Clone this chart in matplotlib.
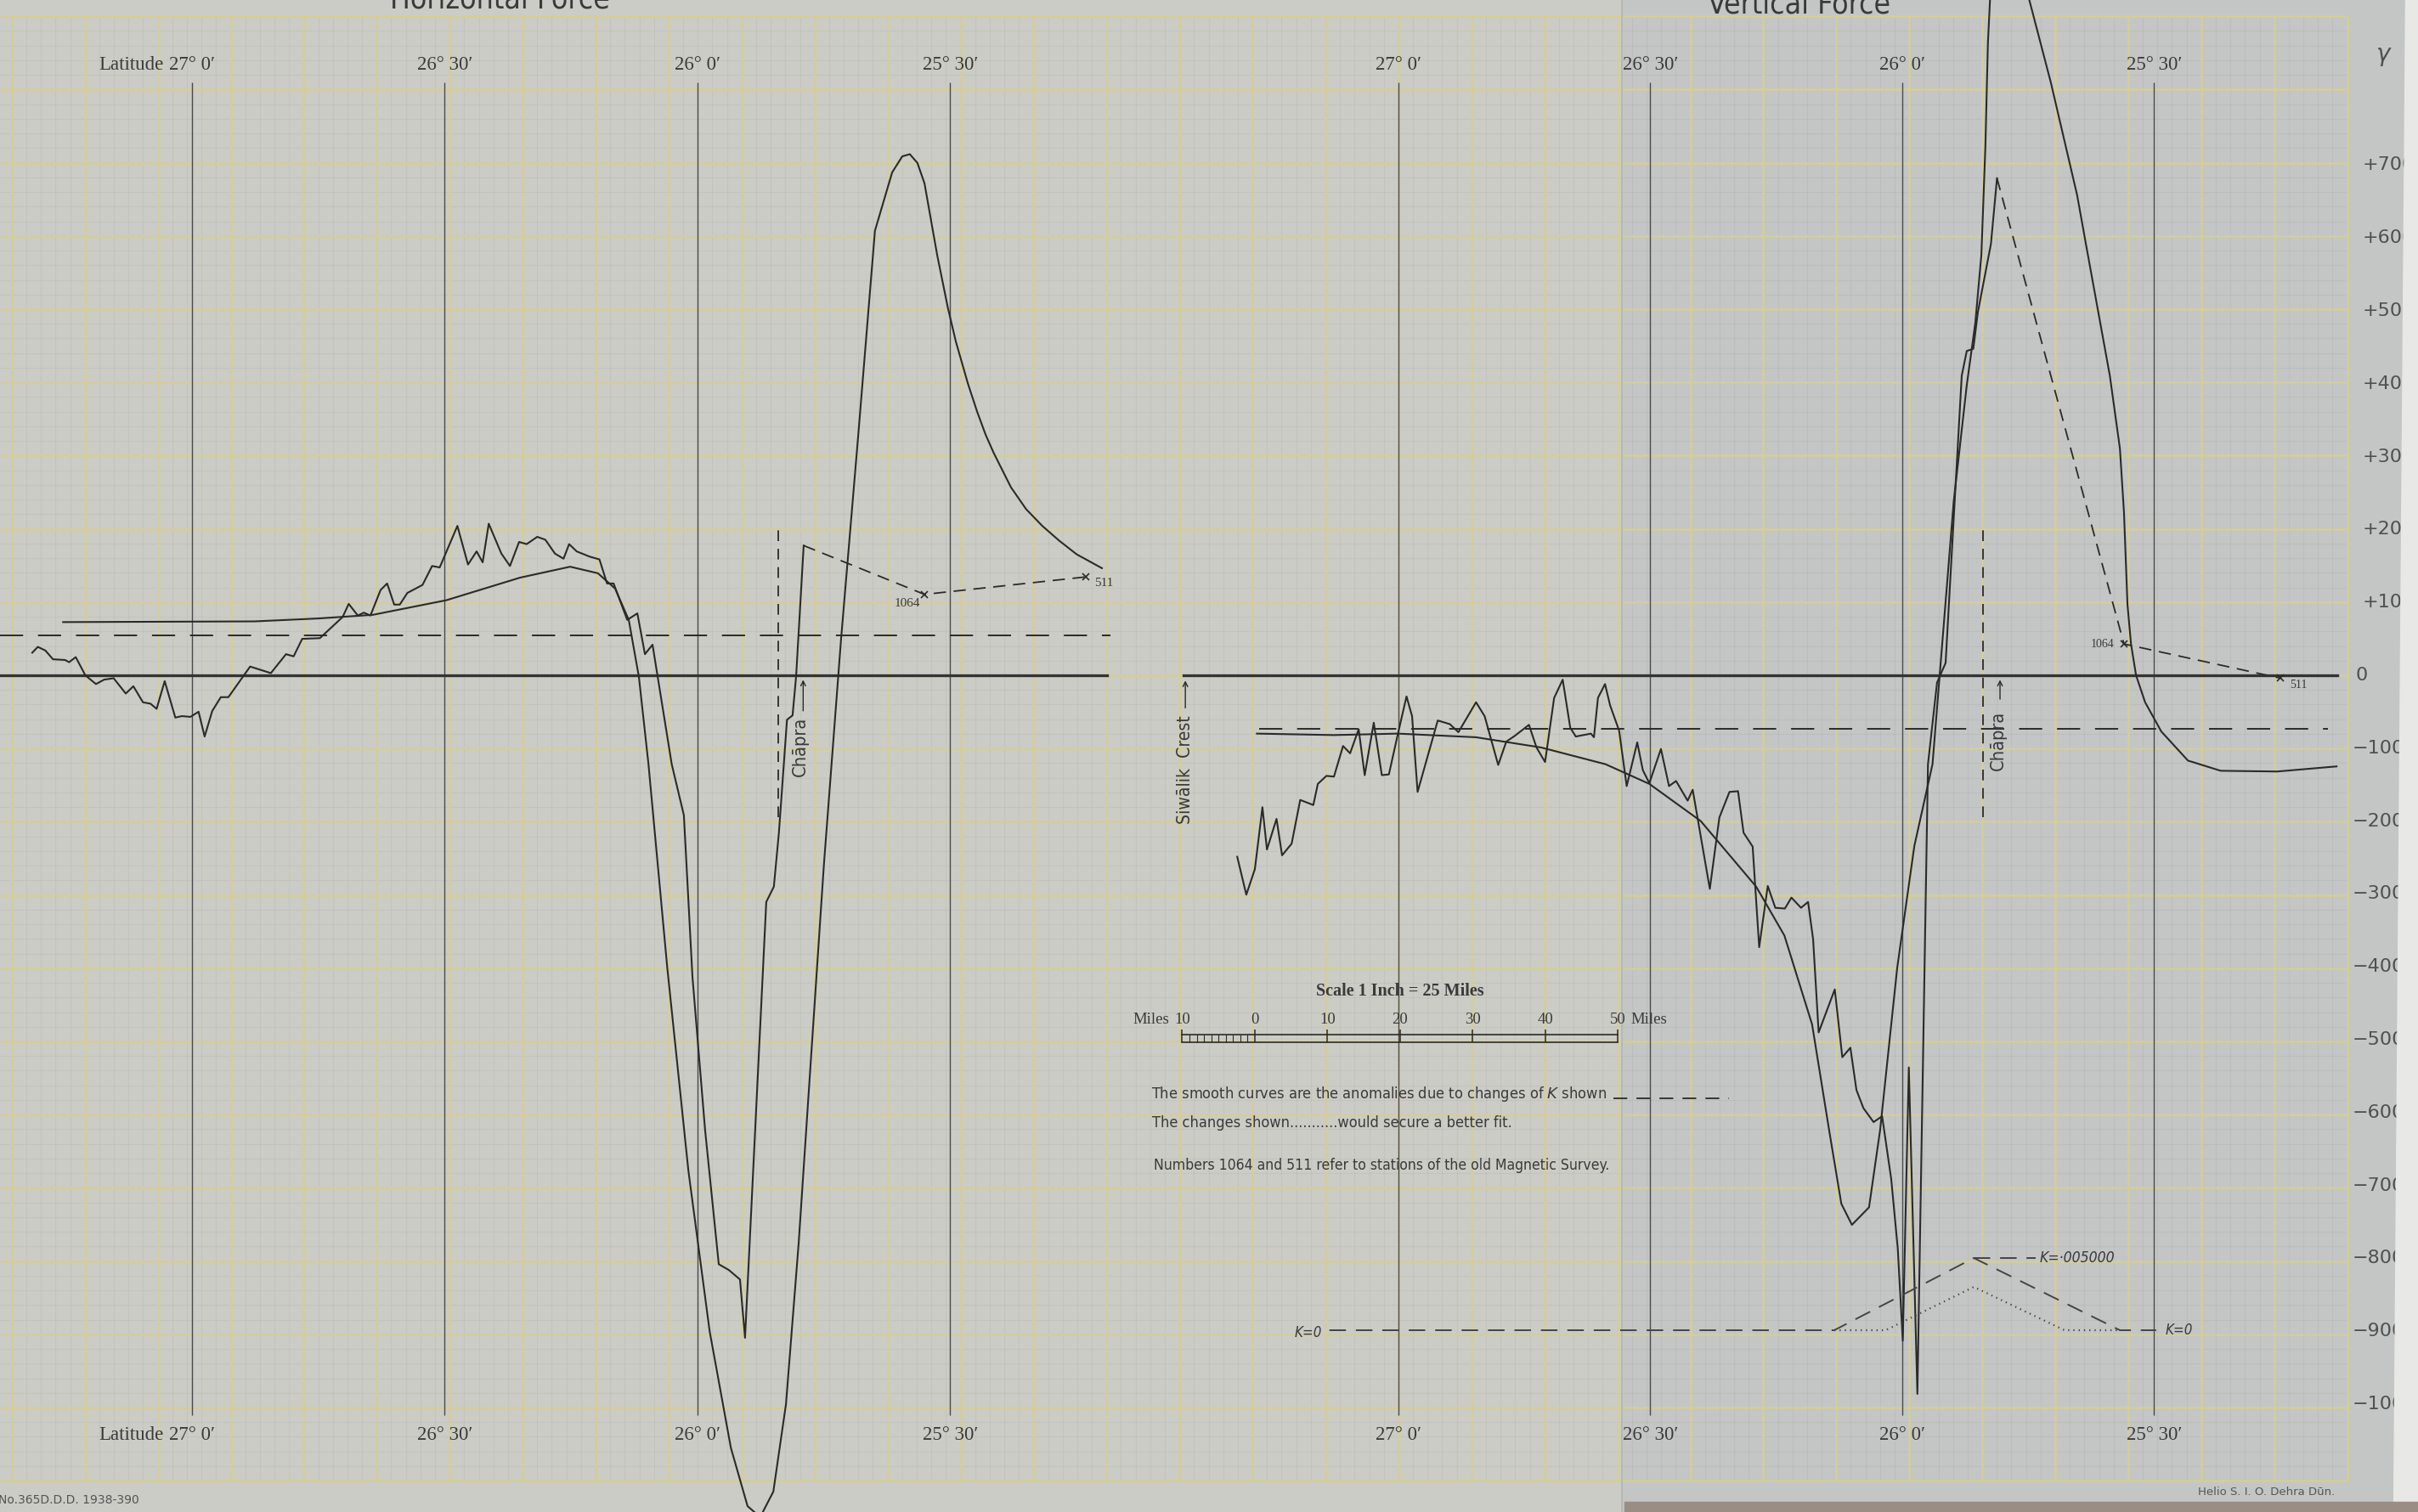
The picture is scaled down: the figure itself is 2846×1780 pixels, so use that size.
import numpy as np
import matplotlib.pyplot as plt
from matplotlib import font_manager
from matplotlib.patches import Rectangle, Polygon
from matplotlib.transforms import blended_transform_factory

W, H = 2846, 1780

# ---------------- data (latitude in degrees, anomaly in gamma) ----------------
# Horizontal force, observed
H_OBS_LAT = [27.316, 27.305, 27.290, 27.275, 27.251, 27.243, 27.230, 27.211, 27.190, 27.174,
             27.155, 27.131, 27.116, 27.097, 27.082, 27.070, 27.054, 27.033, 27.020, 27.003,
             26.987, 26.975, 26.960, 26.943, 26.928, 26.885, 26.844, 26.814, 26.799, 26.782,
             26.747, 26.702, 26.690, 26.672, 26.660, 26.647, 26.627, 26.614, 26.600, 26.589,
             26.574, 26.544, 26.525, 26.510, 26.475, 26.454, 26.437, 26.425, 26.413, 26.388,
             26.371, 26.353, 26.338, 26.317, 26.301, 26.282, 26.265, 26.254, 26.239, 26.214,
             26.194, 26.179, 26.166, 26.139, 26.119, 26.104, 26.089, 26.051, 26.027, 26.010,
             25.985, 25.958, 25.938, 25.916, 25.906, 25.864, 25.849, 25.839, 25.823, 25.812,
             25.805, 25.790]
H_OBS_GAM = [31, 39, 34, 22, 21, 18, 25, 0, -12, -6,
             -4, -25, -15, -37, -39, -46, -8, -58, -56, -57,
             -50, -84, -49, -30, -30, 12, 3, 29, 26, 50,
             51, 80, 98, 82, 86, 82, 117, 126, 97, 97,
             113, 124, 150, 148, 205, 152, 170, 155, 208, 167,
             150, 183, 180, 190, 186, 167, 160, 180, 170, 163,
             159, 126, 126, 76, 85, 29, 42, -122, -192, -414,
             -624, -808, -816, -829, -909, -311, -290, -216, -61, -55,
             -2, 178]
# Horizontal force, computed (smooth)
H_CALC_LAT = [27.255, 26.876, 26.750, 26.642, 26.497, 26.351, 26.252, 26.197, 26.163, 26.136,
              26.116, 26.097, 26.060, 26.018, 25.976, 25.934, 25.901, 25.876, 25.850, 25.825,
              25.800, 25.775, 25.750, 25.716, 25.682, 25.649, 25.615, 25.595, 25.580, 25.565,
              25.551, 25.526, 25.505, 25.489, 25.465, 25.447, 25.430, 25.414, 25.380, 25.350,
              25.318, 25.285, 25.250, 25.200]
H_CALC_GAM = [73, 74, 78, 83, 103, 134, 149, 140, 119, 76,
              -2, -122, -400, -680, -900, -1060, -1140, -1155, -1120, -1000,
              -780, -520, -260, 50, 330, 610, 690, 712, 715, 703,
              675, 577, 505, 458, 400, 362, 330, 305, 258, 228,
              205, 185, 166, 147]
# observed end -> station 1064 -> station 511
H_STN_LAT = [25.790, 25.551, 25.232]
H_STN_GAM = [178, 111, 135]
H_LEVEL = 55

# Vertical force, observed
V_OBS_LAT = [27.320, 27.302, 27.285, 27.270, 27.261, 27.242, 27.231, 27.212, 27.195, 27.169,
             27.160, 27.143, 27.128, 27.110, 27.096, 27.079, 27.067, 27.049, 27.033, 27.019,
             27.001, 26.984, 26.973, 26.962, 26.922, 26.898, 26.881, 26.846, 26.829, 26.802,
             26.786, 26.769, 26.741, 26.726, 26.709, 26.691, 26.674, 26.659, 26.648, 26.618,
             26.612, 26.604, 26.590, 26.580, 26.562, 26.547, 26.526, 26.515, 26.502, 26.479,
             26.463, 26.449, 26.426, 26.416, 26.382, 26.363, 26.343, 26.326, 26.315, 26.297,
             26.284, 26.267, 26.252, 26.233, 26.220, 26.201, 26.187, 26.177, 26.166, 26.134,
             26.119, 26.103, 26.091, 26.077, 26.057, 26.040, 26.022, 26.009, 25.999, 25.987,
             25.970, 25.949, 25.931, 25.914, 25.882, 25.872, 25.859, 25.850, 25.824, 25.812]
V_OBS_GAM = [-249, -301, -266, -181, -239, -197, -247, -231, -171, -178,
             -149, -138, -139, -97, -107, -74, -137, -65, -137, -136,
             -80, -29, -56, -160, -62, -67, -78, -37, -56, -123,
             -91, -83, -68, -99, -119, -31, -6, -72, -84, -80,
             -85, -31, -12, -41, -76, -152, -92, -130, -148, -101,
             -152, -145, -172, -157, -293, -195, -160, -159, -216, -235,
             -373, -289, -319, -320, -305, -319, -311, -362, -490, -431,
             -524, -511, -569, -594, -613, -605, -691, -786, -913, -538,
             -986, -122, -10, 17, 411, 445, 448, 498, 592, 682]
# Vertical force, computed (smooth)
V_CALC_LAT = [27.281, 27.128, 27.001, 26.846, 26.717, 26.589, 26.502, 26.400, 26.290, 26.234,
              26.179, 26.145, 26.121, 26.100, 26.066, 26.044, 26.010, 25.976, 25.940, 25.898,
              25.872, 25.855, 25.843, 25.835, 25.830, 25.821, 25.804, 25.782, 25.762, 25.748,
              25.705, 25.653, 25.634, 25.588, 25.568, 25.560, 25.553, 25.546, 25.536, 25.518,
              25.486, 25.433, 25.368, 25.256, 25.138]
V_CALC_GAM = [-80, -82, -80, -85, -99, -122, -149, -200, -290, -357,
              -479, -625, -725, -754, -730, -624, -401, -234, -122, 238,
              398, 484, 577, 726, 868, 996, 1055, 1043, 985, 927,
              813, 659, 586, 411, 311, 224, 97, 43, 0, -37,
              -77, -117, -131, -132, -125]
V_STN_LAT = [25.812, 25.560, 25.249]
V_STN_GAM = [682, 43, -4]
V_LEVEL = -74

# K profiles (susceptibility)
K_DASH_LAT = [27.137, 26.135, 25.858, 25.568, 25.496]
K_DASH_VAL = [0, 0, 0.005, 0, 0]
K_DOT_LAT = [26.135, 26.033, 25.858, 25.678, 25.568]
K_DOT_VAL = [0, 0, 0.003, 0, 0]
K_TOP_LAT = [25.858, 25.735]

LAT_LINES = [27.0, 26.5, 26.0, 25.5]
LAT_LABELS = ['27° 0′', '26° 30′', '26° 0′', '25° 30′']
GAMMA_TICKS = list(range(700, -1001, -100))
CHAPRA_LAT = 25.84
SCALE_MILES = [-10, 0, 10, 20, 30, 40, 50]
SCALE_LAT0 = 27.285      # latitude of the 0-mile mark
DEG_PER_MILE = 0.014418

# ---------------- fonts / colours ----------------
_names = {f.name for f in font_manager.fontManager.ttflist}
HAVE_NARROW = 'Liberation Sans Narrow' in _names
NARROW = 'Liberation Sans Narrow' if HAVE_NARROW else 'DejaVu Sans'
NS = 1.0 if HAVE_NARROW else 0.87
STRETCH = 'normal' if HAVE_NARROW else 'condensed'
SERIF = 'Liberation Serif' if 'Liberation Serif' in _names else 'DejaVu Serif'

PAPER = '#cbccc5'
PAPER_R = '#c3c6c5'
YEL = '#d5cd9a'
MINOR = (0, 0, 0, 0.04)
INK = '#2a2a2a'
TXT = '#3a3a3a'

NFONT = dict(family=NARROW, fontstretch=STRETCH, color=TXT)
SFONT = dict(family=SERIF, color=TXT)

fig = plt.figure(figsize=(W / 100, H / 100), dpi=100)
fig.patch.set_facecolor('#e6e6e4')

# ---------------- graph paper ----------------
bg = fig.add_axes([0, 0, 1, 1])
bg.set_xlim(0, W)
bg.set_ylim(H, 0)
bg.axis('off')
bg.add_patch(Rectangle((0, 0), W, H, color=PAPER, zorder=0))
bg.add_patch(Rectangle((1909, 0), W - 1909, H, color=PAPER_R, zorder=0))
gx = 13.8 + 85.9 * np.arange(33)
gy = 795 - 86.2 * np.arange(-11, 10)
mx = np.arange(gx[0] - 85.9, gx[-1] + 1, 85.9 / 5)
my = np.arange(gy.min(), gy.max() + 1, 86.2 / 5)
bg.vlines(mx[mx >= 0], gy.min(), gy.max(), color=MINOR, lw=0.8, zorder=1)
bg.hlines(my, 0, gx[-1], color=MINOR, lw=0.8, zorder=1)
bg.vlines(gx, gy.min(), gy.max(), color=YEL, lw=1.8, zorder=2)
bg.hlines(gy, 0, gx[-1], color=YEL, lw=1.8, zorder=2)
bg.vlines(1909, 0, H, color='#b3b5b1', lw=1.2, zorder=2)

# titles (the top of the sheet is trimmed in the original, so only their lower part shows)
bg.text(588, 10, 'Horizontal Force', ha='center', va='baseline', fontsize=25.5 * NS / 0.87, **NFONT)
bg.text(2118, 16, 'Vertical Force', ha='center', va='baseline', fontsize=25.5 * NS / 0.87, **NFONT)
bg.text(-2, 1766, 'No.365D.D.D. 1938-390', ha='left', va='center', fontsize=10,
        color='#555555')
bg.text(2748, 1757, 'Helio S. I. O. Dehra Dūn.', ha='right', va='center', fontsize=9.5,
        color='#555555')

# legend notes
bg.text(1355, 1288, 'The smooth curves are the anomalies due to changes of $K$ shown',
        ha='left', va='center', fontsize=15 * NS, **NFONT)
bg.text(1356, 1322, 'The changes shown...........would secure a better fit.',
        ha='left', va='center', fontsize=15 * NS, **NFONT)
bg.text(1358, 1372, 'Numbers 1064 and 511 refer to stations of the old Magnetic Survey.',
        ha='left', va='center', fontsize=14.5 * NS, **NFONT)

YLIM = ((795 - H) / 0.858, 795 / 0.858)


def panel(xlim):
    ax = fig.add_axes([0, 0, 1, 1], facecolor='none')
    ax.set_xlim(*xlim)
    ax.set_ylim(*YLIM)
    ax.axis('off')
    return ax


axH = panel((27.3798, 27.3798 - W / 595))
axV = panel((29.7757, 29.7757 - W / 593))

# ---------------- both panels: latitude lines and labels ----------------
for ax, zlat in ((axH, (27.3798, 25.190)), (axV, (27.427, 25.136))):
    ax.vlines(LAT_LINES, -1015, 813, color='#4a4a4a', lw=1.0)
    for lat, lab in zip(LAT_LINES, LAT_LABELS):
        ax.text(lat, 837, lab, ha='center', va='center', fontsize=16.5, **SFONT)
        ax.text(lat, -1042, lab, ha='center', va='center', fontsize=16.5, **SFONT)
    ax.plot(zlat, [0, 0], color='#333333', lw=2.4)
    ax.vlines(CHAPRA_LAT, -195, 200, color=INK, lw=1.3, linestyles=(0, (7, 5)))

for g, off in ((837, -24), (-1042, -24)):
    axH.annotate('Latitude', xy=(27.0, g), xytext=(off, 0), textcoords='offset points',
                 ha='right', va='center', fontsize=16.5, **SFONT)

# ---------------- Horizontal force ----------------
axH.plot([27.3798, 25.183], [H_LEVEL, H_LEVEL], color=INK, lw=1.4, dashes=(14, 9))
axH.plot(H_CALC_LAT, H_CALC_GAM, color=INK, lw=1.5)
axH.plot(H_OBS_LAT, H_OBS_GAM, color=INK, lw=1.5)
axH.plot(H_STN_LAT, H_STN_GAM, color=INK, lw=1.3, dashes=(8, 5))
axH.plot(H_STN_LAT[1:], H_STN_GAM[1:], 'x', color=INK, ms=6, mew=1.2)
axH.text(25.585, 98, '1064', ha='center', va='center', fontsize=11, **SFONT)
axH.text(25.197, 127, '511', ha='center', va='center', fontsize=11, **SFONT)
axH.text(25.797, -98, 'Chāpra', rotation=90, ha='center', va='center',
         fontsize=18 * NS, **NFONT)
axH.annotate('', xy=(25.791, -3), xytext=(25.791, -52),
             arrowprops=dict(arrowstyle='->', lw=1.0, color=INK))

# ---------------- Vertical force ----------------
axV.plot([27.276, 25.155], [V_LEVEL, V_LEVEL], color=INK, lw=1.4, dashes=(14, 9))
axV.plot(V_CALC_LAT, V_CALC_GAM, color=INK, lw=1.5)
axV.plot(V_OBS_LAT, V_OBS_GAM, color=INK, lw=1.5)
axV.plot(V_STN_LAT, V_STN_GAM, color=INK, lw=1.3, dashes=(8, 5))
axV.plot(V_STN_LAT[1:], V_STN_GAM[1:], 'x', color=INK, ms=6, mew=1.2)
axV.text(25.603, 43, '1064', ha='center', va='center', fontsize=10, **SFONT)
axV.text(25.214, -13, '511', ha='center', va='center', fontsize=10, **SFONT)
axV.text(25.809, -90, 'Chāpra', rotation=90, ha='center', va='center',
         fontsize=18 * NS, **NFONT)
axV.annotate('', xy=(25.806, -3), xytext=(25.806, -36),
             arrowprops=dict(arrowstyle='->', lw=1.0, color=INK))
axV.text(27.423, -130, 'Siwālik  Crest', rotation=90, ha='center', va='center',
         fontsize=17.5 * NS, **NFONT)
axV.annotate('', xy=(27.423, -4), xytext=(27.423, -48),
             arrowprops=dict(arrowstyle='->', lw=1.0, color=INK))

# legend sample of the K line
axV.plot([26.573, 26.344], [-580, -580], color=INK, lw=1.3, dashes=(9, 6))

# scale bar
sl = [SCALE_LAT0 - m * DEG_PER_MILE for m in SCALE_MILES]
for y in (-493, -504):
    axV.plot([sl[0], sl[-1]], [y, y], color=INK, lw=1.2)
axV.vlines(sl, -504, -486, color=INK, lw=1.1)
fine = [SCALE_LAT0 - m * DEG_PER_MILE for m in range(-9, 0)]
axV.vlines(fine, -504, -493, color=INK, lw=0.8)
for m, x in zip(SCALE_MILES, sl):
    axV.text(x, -473, str(abs(m)), ha='center', va='center', fontsize=13.5, **SFONT)
axV.annotate('Miles', xy=(sl[0], -473), xytext=(-11, 0), textcoords='offset points',
             ha='right', va='center', fontsize=13.5, **SFONT)
axV.annotate('Miles', xy=(sl[-1], -473), xytext=(11, 0), textcoords='offset points',
             ha='left', va='center', fontsize=13.5, **SFONT)
axV.text(SCALE_LAT0 - 20 * DEG_PER_MILE, -434, 'Scale 1 Inch = 25 Miles', ha='center',
         va='center', fontsize=14.5, fontweight='bold', **SFONT)

# K profiles on their own scale
axK = fig.add_axes([0, 0, 1, 1], facecolor='none', sharex=axV)
axK.set_ylim(-214 / 17000, 1566 / 17000)
axK.axis('off')
axK.plot(K_DASH_LAT, K_DASH_VAL, color='#444444', lw=1.4, dashes=(10, 6))
axK.plot(K_TOP_LAT, [0.005, 0.005], color='#444444', lw=1.4, dashes=(10, 6))
axK.plot(K_DOT_LAT, K_DOT_VAL, color='#444444', lw=1.6, linestyle=(0, (0.6, 2.2)))
axK.annotate('K=0', xy=(K_DASH_LAT[0], 0), xytext=(-6, -2), textcoords='offset points',
             ha='right', va='center', fontsize=14 * NS, style='italic', **NFONT)
axK.annotate('K=0', xy=(K_DASH_LAT[-1], 0), xytext=(8, 0), textcoords='offset points',
             ha='left', va='center', fontsize=14 * NS, style='italic', **NFONT)
axK.annotate('K=·005000', xy=(K_TOP_LAT[-1], 0.005), xytext=(3, 0), textcoords='offset points',
             ha='left', va='center', fontsize=14.5 * NS, style='italic', **NFONT)

# gamma scale on the right margin
tr = blended_transform_factory(bg.transData, axV.transData)
for v in GAMMA_TICKS:
    lab = f'+{v}' if v > 0 else ('0' if v == 0 else f'−{-v}')
    x = 2781 if v > 0 else (2773 if v == 0 else 2769)
    axV.text(x, v, lab, transform=tr, ha='left', va='center', fontsize=16,
             color='#505050')
axV.text(2806, 850, r'$\gamma$', transform=tr, ha='center', va='center', fontsize=20,
         color='#505050')

# paper edges
ov = fig.add_axes([0, 0, 1, 1], facecolor='none')
ov.set_xlim(0, W)
ov.set_ylim(H, 0)
ov.axis('off')
ov.add_patch(Polygon([(2831, 0), (W, 0), (W, H), (2817, H)], color='#e8e8e6'))
ov.add_patch(Rectangle((1912, 1768), W - 1912, 12, color='#9a8e84'))

fig.savefig('out.png', dpi=100)
